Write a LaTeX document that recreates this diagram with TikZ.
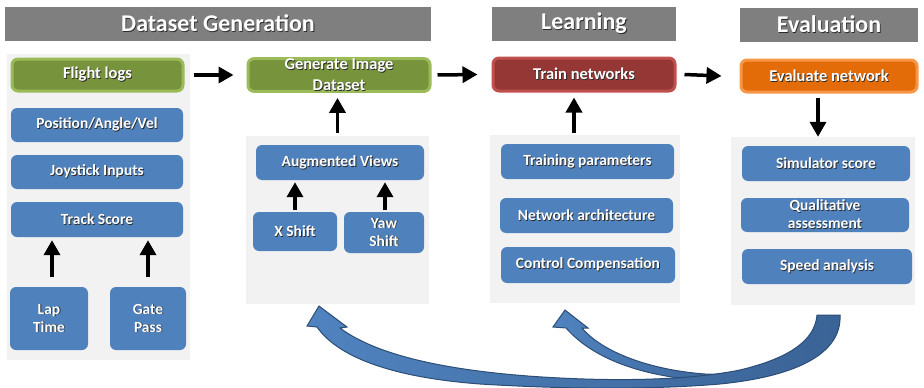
\documentclass[tikz,border=0pt]{standalone}
\usepackage{fontspec}
\setmainfont{Carlito}
\usetikzlibrary{arrows.meta}
\definecolor{hdrgray}{HTML}{7F7F7F}
\definecolor{panelgray}{HTML}{F2F2F2}
\definecolor{boxblue}{HTML}{4F81BD}
\definecolor{greenfill}{HTML}{77933C}
\definecolor{greenline}{HTML}{9BBB59}
\definecolor{redfill}{HTML}{953735}
\definecolor{redline}{HTML}{C0504D}
\definecolor{orangefill}{HTML}{E36C09}
\definecolor{orangeline}{HTML}{F79646}
\definecolor{curvedark}{HTML}{3A6396}
\definecolor{curvelight}{HTML}{5083BF}
\definecolor{curveline}{HTML}{2C4D75}
\definecolor{textshade}{HTML}{2B2B2B}

% white label text with a soft drop shadow
\newcommand{\ts}[1]{\leavevmode\rlap{\kern0.8pt\raisebox{-0.8pt}{\color{textshade}#1}}#1}

\tikzset{
  header/.style={fill=hdrgray, text=white, inner sep=0pt,
    font=\fontsize{24}{26}\selectfont\bfseries},
  panel/.style={fill=panelgray, inner sep=0pt},
  bluebox/.style={fill=boxblue, rounded corners=6pt, text=white, align=center,
    inner sep=0pt, font=\fontsize{15.5}{18}\selectfont\bfseries},
  stagebox/.style={rounded corners=6pt, text=white, align=center, line width=3pt,
    inner sep=0pt, font=\fontsize{16.5}{21}\selectfont\bfseries},
  greenbox/.style={stagebox, fill=greenfill, draw=greenline},
  redbox/.style={stagebox, fill=redfill, draw=redline},
  orangebox/.style={stagebox, fill=orangefill, draw=orangeline},
  arr/.style={line width=3.5pt, -{Triangle[width=16pt,length=15pt]}},
  curve/.style={left color=curvelight, right color=curvedark, draw=curveline, line width=1pt},
}

% a node given by its corner coordinates
\newcommand{\cornerbox}[7]{%
  \node[#6, minimum width={(#4)-(#2)}, minimum height={(#5)-(#3)}]
    (#1) at ({((#2)+(#4))/2},{((#3)+(#5))/2}) {#7};}

\begin{document}
\begin{tikzpicture}[x=1pt, y=-1pt]
\useasboundingbox (0,0) rectangle (924,388);

% stage headers
\cornerbox{hdrA}{5}{7}{431}{41}{header}{\ts{Dataset Generation}}
\cornerbox{hdrB}{492}{7}{676}{41}{header}{\ts{Learning}}
\cornerbox{hdrC}{740}{8}{918}{42}{header}{\ts{Evaluation}}

% grey panels
\cornerbox{panA}{7}{54}{190}{360}{panel}{}
\cornerbox{panB}{246}{136}{429}{304}{panel}{}
\cornerbox{panC}{490}{135}{680}{303}{panel}{}
\cornerbox{panD}{731}{137}{915}{305}{panel}{}

% dataset generation
\cornerbox{flight}{12}{59}{183}{91}{greenbox}{\ts{Flight logs}}
\cornerbox{pos}{11}{108}{183}{142}{bluebox}{\ts{Position/Angle/Vel}}
\cornerbox{joy}{11}{155}{183}{189}{bluebox}{\ts{Joystick Inputs}}
\cornerbox{track}{11}{202}{183}{237}{bluebox}{\ts{Track Score}}
\cornerbox{lap}{10}{287}{88}{350}{bluebox}{\ts{Lap}\\\ts{Time}}
\cornerbox{gate}{110}{287}{186}{350}{bluebox}{\ts{Gate}\\\ts{Pass}}

\cornerbox{gen}{248}{59}{430}{91}{greenbox}{\ts{Generate Image}\\\ts{Dataset}}
\cornerbox{aug}{256}{145}{424}{180}{bluebox}{\ts{Augmented Views}}
\cornerbox{xs}{253}{212}{337}{251}{bluebox}{\ts{X Shift}}
\cornerbox{yaw}{344}{212}{424}{253}{bluebox}{\ts{Yaw}\\\ts{Shift}}

% learning
\cornerbox{train}{493}{58}{675}{91}{redbox}{\ts{Train networks}}
\cornerbox{tparam}{501}{144}{674}{179}{bluebox}{\ts{Training parameters}}
\cornerbox{netarch}{500}{198}{673}{233}{bluebox}{\ts{Network architecture}}
\cornerbox{ctrl}{501}{247}{675}{283}{bluebox}{\ts{Control Compensation}}

% evaluation
\cornerbox{eval}{741}{60}{917}{92}{orangebox}{\ts{Evaluate network}}
\cornerbox{sim}{742}{146}{910}{181}{bluebox}{\ts{Simulator score}}
\cornerbox{qual}{741}{198}{909}{232}{bluebox}{\ts{Qualitative}\\\ts{assessment}}
\cornerbox{speed}{742}{249}{912}{284}{bluebox}{\ts{Speed analysis}}

% pipeline arrows
\draw[arr] ([xshift=9pt]flight.east) -- ([xshift=-13pt]gen.west);
\draw[arr] ([xshift=6pt]gen.east) -- ([xshift=-14pt]train.west);
\draw[arr] ([xshift=8pt]train.east) -- ([xshift=-18pt]eval.west);
\draw[arr] ([yshift=3pt]panB.north) -- ([yshift=-5pt]panB.north |- gen.south);
\draw[arr] ([xshift=-11pt,yshift=2pt]panC.north) -- ([xshift=-11pt,yshift=-5pt]panC.north |- train.south);
\draw[arr] ([xshift=-11pt,yshift=-4pt]eval.south) -- ([xshift=-11pt]eval.south |- panD.north);
\draw[arr] ([xshift=3pt,yshift=10pt]lap.north) -- ([xshift=3pt,yshift=-3pt]lap.north |- track.south);
\draw[arr] ([yshift=10pt]gate.north) -- ([yshift=-3pt]gate.north |- track.south);
\draw[arr] ([yshift=2pt]xs.north) -- ([yshift=-2pt]xs.north |- aug.south);
\draw[arr] ([xshift=1pt,yshift=2pt]yaw.north) -- ([xshift=1pt,yshift=-2pt]yaw.north |- aug.south);

% feedback arrows from evaluation back to learning and dataset generation
% branch into the learning panel (its end is hidden under the main band)
\path[curve] (565,310) -- (588,328) -- (582,328)
  .. controls (602,352) and (650,370) .. (705,374)
  .. controls (722,375) and (735,373) .. (745,370)
  -- (712,381)
  .. controls (650,378) and (596,362) .. (566,328)
  -- (553,327) -- cycle;
% main band from the evaluation panel into the dataset panel
\path[curve] (319,306) -- (347,327) -- (340,328)
  .. controls (380,358) and (460,373) .. (560,378)
  .. controls (640,382) and (700,378) .. (740,370)
  .. controls (790,358) and (815,340) .. (817,315)
  -- (840,315)
  .. controls (842,352) and (800,376) .. (720,384)
  .. controls (650,390) and (560,389) .. (480,384)
  .. controls (400,378) and (340,360) .. (317,327)
  -- (307,326) -- cycle;
\end{tikzpicture}
\end{document}
